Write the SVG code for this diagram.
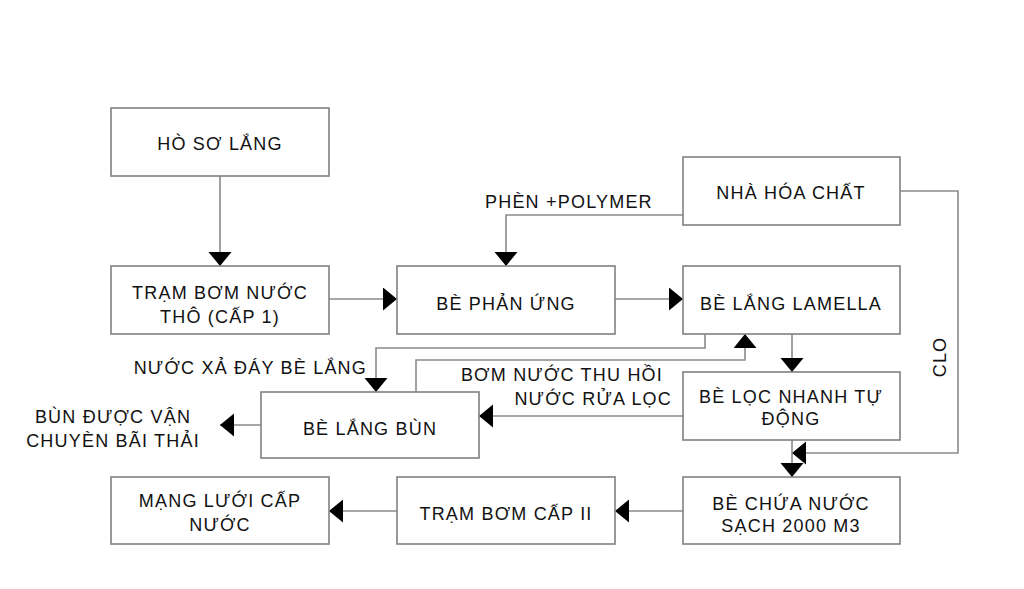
<svg xmlns="http://www.w3.org/2000/svg" width="1024" height="589" viewBox="0 0 1024 589">
<style>
.box{fill:#fff;stroke:#808080;stroke-width:1.6}
.t{font-family:"Liberation Sans",Arial,sans-serif;font-size:18px;letter-spacing:1.2px;fill:#111;text-anchor:middle}
.l{font-family:"Liberation Sans",Arial,sans-serif;font-size:18px;letter-spacing:1.2px;fill:#111}
.c{fill:none;stroke:#8a8a8a;stroke-width:1.6}
</style>
<defs>
<marker id="ah" markerUnits="userSpaceOnUse" markerWidth="15" markerHeight="24" refX="14" refY="11.5" orient="auto" viewBox="0 0 15 24">
<path d="M0,0 L14,11.5 L0,23 Z" fill="#000"/>
</marker>
</defs>
<rect width="1024" height="589" fill="#fff"/>
<g id="connectors">
<path class="c" d="M220,176 V266" marker-end="url(#ah)"/>
<path class="c" d="M329,299 H397" marker-end="url(#ah)"/>
<path class="c" d="M615,299 H683" marker-end="url(#ah)"/>
<path class="c" d="M683,215 H506 V266" marker-end="url(#ah)"/>
<path class="c" d="M900,191 H958 V453 H792" marker-end="url(#ah)"/>
<path class="c" d="M792,334 V372" marker-end="url(#ah)"/>
<path class="c" d="M792,440 V477" marker-end="url(#ah)"/>
<path class="c" d="M705,334 V348 H376 V392" marker-end="url(#ah)"/>
<path class="c" d="M416,392 V360 H745 V334" marker-end="url(#ah)"/>
<path class="c" d="M683,416 H479" marker-end="url(#ah)"/>
<path class="c" d="M261,425 H220" marker-end="url(#ah)"/>
<path class="c" d="M683,511 H615" marker-end="url(#ah)"/>
<path class="c" d="M397,511 H329" marker-end="url(#ah)"/>
<text class="l" x="485" y="208">PHÈN +POLYMER</text>
<text class="l" x="367" y="374" text-anchor="end">NƯỚC XẢ ĐÁY BÈ LẮNG</text>
<text class="l" x="663" y="381" text-anchor="end">BƠM NƯỚC THU HỒI</text>
<text class="l" x="672" y="405" text-anchor="end">NƯỚC RỬA LỌC</text>
<text class="t" x="113" y="423">BÙN ĐƯỢC VẬN</text>
<text class="t" x="113" y="447">CHUYÈN BÃI THẢI</text>
<text class="t" x="0" y="0" transform="translate(946,357) rotate(-90)">CLO</text>
</g>
<g id="n1"><rect class="box" x="111" y="108" width="218" height="68"/><text class="t" x="220" y="150">HÒ SƠ LẮNG</text></g>
<g id="n2"><rect class="box" x="111" y="266" width="218" height="68"/><text class="t" x="220" y="299">TRẠM BƠM NƯỚC</text><text class="t" x="220" y="323">THÔ (CẤP 1)</text></g>
<g id="n3"><rect class="box" x="397" y="266" width="218" height="68"/><text class="t" x="506" y="310">BÈ PHẢN ỨNG</text></g>
<g id="n4"><rect class="box" x="683" y="157" width="217" height="68"/><text class="t" x="791" y="199">NHÀ HÓA CHẤT</text></g>
<g id="n5"><rect class="box" x="683" y="266" width="217" height="68"/><text class="t" x="791" y="310">BÈ LẮNG LAMELLA</text></g>
<g id="n6"><rect class="box" x="683" y="372" width="217" height="68"/><text class="t" x="791" y="403">BÈ LỌC NHANH TỰ</text><text class="t" x="791" y="425">ĐỘNG</text></g>
<g id="n7"><rect class="box" x="261" y="392" width="218" height="66"/><text class="t" x="370" y="435">BÈ LẮNG BÙN</text></g>
<g id="n8"><rect class="box" x="683" y="477" width="217" height="67"/><text class="t" x="791" y="510">BÈ CHỨA NƯỚC</text><text class="t" x="791" y="532">SẠCH 2000 M3</text></g>
<g id="n9"><rect class="box" x="397" y="477" width="218" height="67"/><text class="t" x="506" y="520">TRẠM BƠM CẤP II</text></g>
<g id="n10"><rect class="box" x="111" y="477" width="218" height="67"/><text class="t" x="220" y="507">MẠNG LƯỚI CẤP</text><text class="t" x="220" y="531">NƯỚC</text></g>
</svg>
